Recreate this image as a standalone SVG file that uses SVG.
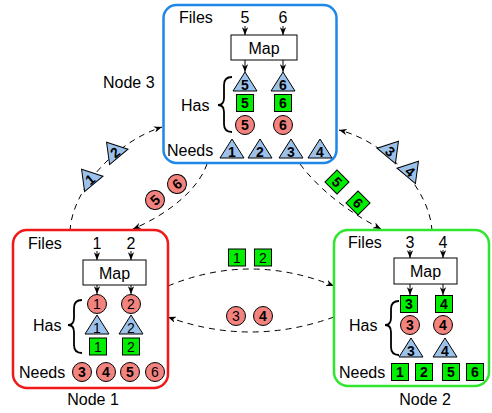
<svg xmlns="http://www.w3.org/2000/svg" xmlns:xlink="http://www.w3.org/1999/xlink" width="492" height="413" viewBox="0 0 492 413">
  <style>
    text { font-family: "Liberation Sans", Arial, sans-serif; fill: #000; }
    .lbl { font-size: 16px; }
    .mid { text-anchor: middle; }
    .tok { font-size: 14px; font-weight: bold; text-anchor: middle; }
    .tokn { font-size: 14px; text-anchor: middle; }
    .box { fill: #fff; stroke-width: 2.5; }
    .map { fill: #fff; stroke: #000; stroke-width: 1; }
    .arr { fill: none; stroke: #000; stroke-width: 1; marker-end: url(#ah); }
    .brace { fill: none; stroke: #000; stroke-width: 1.8; }
    .circ { fill: #f2837f; stroke: #000; stroke-width: 1; }
    .tri { fill: #9cc2ec; stroke: #000; stroke-width: 1; }
    .sq { fill: #00ee00; stroke: #000; stroke-width: 1; }
    .link { fill: none; stroke: #000; stroke-width: 1; stroke-dasharray: 6 5; marker-end: url(#ah); }
  </style>
  <defs>
    <marker id="ah" viewBox="0 0 10 8" refX="10" refY="4" markerWidth="8" markerHeight="6.4" orient="auto" markerUnits="userSpaceOnUse">
      <path d="M0,0 L10,4 L0,8 L3,4 z" fill="#000"/>
    </marker>
    <polygon id="tri" class="tri" points="0,-10 12,9 -12,9"/>
    <rect id="sq" class="sq" x="-8.5" y="-8.5" width="17" height="17"/>
    <circle id="circ" class="circ" r="9.5"/>
  </defs>

  <!-- transfers between nodes -->
  <g id="connectors">
    <!-- node 1 -> node 3 : triangles 1, 2 -->
    <path class="link" d="M70,231 C72,190 115,142 162,127"/>
    <g transform="translate(88,177) rotate(-40)"><use xlink:href="#tri"/><text class="tok" y="8">1</text></g>
    <g transform="translate(113,150) rotate(-40)"><use xlink:href="#tri"/><text class="tok" y="8">2</text></g>

    <!-- node 3 -> node 1 : circles 5, 6 -->
    <path class="link" d="M207,164 C198,190 168,214 133,229"/>
    <g transform="translate(155,200) rotate(-40)"><use xlink:href="#circ"/><text class="tok" y="5">5</text></g>
    <g transform="translate(177,184) rotate(-40)"><use xlink:href="#circ"/><text class="tok" y="5">6</text></g>

    <!-- node 3 -> node 2 : squares 5, 6 -->
    <path class="link" d="M300,164 C318,188 345,210 381,229"/>
    <g transform="translate(337,182) rotate(45)"><use xlink:href="#sq"/><text class="tok" y="5">5</text></g>
    <g transform="translate(358,203) rotate(45)"><use xlink:href="#sq"/><text class="tok" y="5">6</text></g>

    <!-- node 2 -> node 3 : triangles 3, 4 -->
    <path class="link" d="M432,231 C430,190 387,142 339,130"/>
    <g transform="translate(392,149) rotate(40)"><use xlink:href="#tri"/><text class="tok" y="8">3</text></g>
    <g transform="translate(412,169) rotate(40)"><use xlink:href="#tri"/><text class="tok" y="8">4</text></g>

    <!-- node 1 -> node 2 : squares 1, 2 -->
    <path class="link" d="M168,286 Q250,252 334,286"/>
    <g transform="translate(237,257.5)"><use xlink:href="#sq"/><text class="tokn" y="5">1</text></g>
    <g transform="translate(263,257.5)"><use xlink:href="#sq"/><text class="tokn" y="5">2</text></g>

    <!-- node 2 -> node 1 : circles 3, 4 -->
    <path class="link" d="M334,317 Q250,347 168,317"/>
    <g transform="translate(236,316)"><use xlink:href="#circ"/><text class="tokn" y="5">3</text></g>
    <g transform="translate(263,316)"><use xlink:href="#circ"/><text class="tok" y="5">4</text></g>
  </g>

  <!-- Node 3 -->
  <g id="node3">
    <rect class="box" x="163.5" y="5" width="173" height="158" rx="13" stroke="#1f87e8"/>
    <text class="lbl" x="179" y="23">Files</text>
    <text class="lbl mid" x="245" y="23">5</text>
    <text class="lbl mid" x="283" y="23">6</text>
    <line class="arr" x1="245" y1="26" x2="245" y2="35"/>
    <line class="arr" x1="283" y1="26" x2="283" y2="35"/>
    <rect class="map" x="231" y="35" width="66" height="25"/>
    <text class="lbl mid" x="264" y="53.5">Map</text>
    <line class="arr" x1="245" y1="60" x2="245" y2="72"/>
    <line class="arr" x1="283" y1="60" x2="283" y2="72"/>
    <text class="lbl" x="181" y="111">Has</text>
    <path class="brace" d="M232,77 Q224,77 224,85 L224,98 Q224,105 218,105 Q224,105 224,112 L224,124 Q224,132 232,132"/>
    <g transform="translate(245,82)"><use xlink:href="#tri"/><text class="tok" y="8">5</text></g>
    <g transform="translate(283,82)"><use xlink:href="#tri"/><text class="tok" y="8">6</text></g>
    <g transform="translate(245,103)"><use xlink:href="#sq"/><text class="tok" y="5">5</text></g>
    <g transform="translate(283,103)"><use xlink:href="#sq"/><text class="tok" y="5">6</text></g>
    <g transform="translate(245,125)"><use xlink:href="#circ"/><text class="tok" y="5">5</text></g>
    <g transform="translate(283,125)"><use xlink:href="#circ"/><text class="tok" y="5">6</text></g>
    <text class="lbl" x="167" y="156">Needs</text>
    <g transform="translate(232,149)"><use xlink:href="#tri"/><text class="tok" y="8">1</text></g>
    <g transform="translate(260,149)"><use xlink:href="#tri"/><text class="tok" y="8">2</text></g>
    <g transform="translate(291,149)"><use xlink:href="#tri"/><text class="tok" y="8">3</text></g>
    <g transform="translate(320,149)"><use xlink:href="#tri"/><text class="tok" y="8">4</text></g>
    <text class="lbl" x="103" y="88">Node 3</text>
  </g>

  <!-- Node 1 -->
  <g id="node1">
    <rect class="box" x="13" y="230" width="155" height="158" rx="14" stroke="#f01818"/>
    <text class="lbl" x="28" y="249">Files</text>
    <text class="lbl mid" x="97" y="249">1</text>
    <text class="lbl mid" x="131" y="249">2</text>
    <line class="arr" x1="97" y1="251" x2="97" y2="260"/>
    <line class="arr" x1="131" y1="251" x2="131" y2="260"/>
    <rect class="map" x="83" y="260" width="63" height="25"/>
    <text class="lbl mid" x="114.5" y="278.5">Map</text>
    <line class="arr" x1="97" y1="285" x2="97" y2="294"/>
    <line class="arr" x1="131" y1="285" x2="131" y2="294"/>
    <text class="lbl" x="33" y="331">Has</text>
    <path class="brace" d="M82,300 Q74,300 74,308 L74,318 Q74,325 68,325 Q74,325 74,332 L74,345 Q74,353 82,353"/>
    <g transform="translate(97,304)"><use xlink:href="#circ"/><text class="tokn" y="5">1</text></g>
    <g transform="translate(131,304)"><use xlink:href="#circ"/><text class="tokn" y="5">2</text></g>
    <g transform="translate(97,325)"><use xlink:href="#tri"/><text class="tokn" y="8">1</text></g>
    <g transform="translate(131,325)"><use xlink:href="#tri"/><text class="tokn" y="8">2</text></g>
    <g transform="translate(98,346.5)"><use xlink:href="#sq"/><text class="tokn" y="5">1</text></g>
    <g transform="translate(131,346.5)"><use xlink:href="#sq"/><text class="tokn" y="5">2</text></g>
    <text class="lbl" x="19" y="378">Needs</text>
    <g transform="translate(82,372)"><use xlink:href="#circ"/><text class="tok" y="5">3</text></g>
    <g transform="translate(106,372)"><use xlink:href="#circ"/><text class="tok" y="5">4</text></g>
    <g transform="translate(130,372)"><use xlink:href="#circ"/><text class="tok" y="5">5</text></g>
    <g transform="translate(155,372)"><use xlink:href="#circ"/><text class="tokn" y="5">6</text></g>
    <text class="lbl mid" x="93" y="405">Node 1</text>
  </g>

  <!-- Node 2 -->
  <g id="node2">
    <rect class="box" x="334" y="230" width="155" height="156" rx="14" stroke="#2ee62e"/>
    <text class="lbl" x="348" y="248">Files</text>
    <text class="lbl mid" x="410" y="248">3</text>
    <text class="lbl mid" x="443" y="248">4</text>
    <line class="arr" x1="410" y1="250" x2="410" y2="258"/>
    <line class="arr" x1="443" y1="250" x2="443" y2="258"/>
    <rect class="map" x="394" y="258" width="63" height="26"/>
    <text class="lbl mid" x="425.5" y="277">Map</text>
    <line class="arr" x1="410" y1="284" x2="410" y2="295"/>
    <line class="arr" x1="443" y1="284" x2="443" y2="295"/>
    <text class="lbl" x="349" y="331">Has</text>
    <path class="brace" d="M399,301 Q391,301 391,309 L391,318 Q391,325 385,325 Q391,325 391,332 L391,347 Q391,355 399,355"/>
    <g transform="translate(409,304)"><use xlink:href="#sq"/><text class="tok" y="5">3</text></g>
    <g transform="translate(444,304)"><use xlink:href="#sq"/><text class="tok" y="5">4</text></g>
    <g transform="translate(410,325)"><use xlink:href="#circ"/><text class="tok" y="5">3</text></g>
    <g transform="translate(443,325)"><use xlink:href="#circ"/><text class="tok" y="5">4</text></g>
    <g transform="translate(411,348)"><use xlink:href="#tri"/><text class="tok" y="8">3</text></g>
    <g transform="translate(445,348)"><use xlink:href="#tri"/><text class="tok" y="8">4</text></g>
    <text class="lbl" x="339" y="378">Needs</text>
    <g transform="translate(400,372)"><use xlink:href="#sq"/><text class="tok" y="5">1</text></g>
    <g transform="translate(424,372)"><use xlink:href="#sq"/><text class="tok" y="5">2</text></g>
    <g transform="translate(451,372)"><use xlink:href="#sq"/><text class="tok" y="5">5</text></g>
    <g transform="translate(475,372)"><use xlink:href="#sq"/><text class="tok" y="5">6</text></g>
    <text class="lbl mid" x="425" y="405">Node 2</text>
  </g>
</svg>
